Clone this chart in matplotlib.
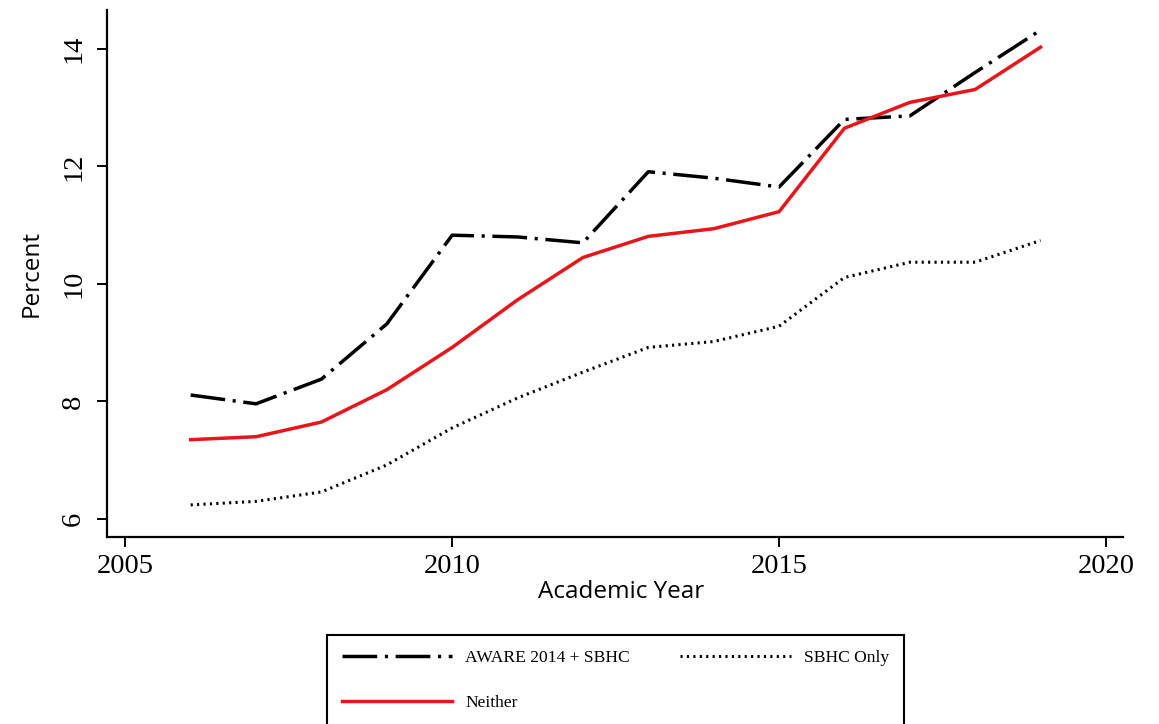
import matplotlib
matplotlib.use("Agg")
import matplotlib.pyplot as plt


# Data
years = [2006, 2007, 2008, 2009, 2010, 2011, 2012, 2013, 2014, 2015, 2016, 2017, 2018, 2019]
aware_sbhc = [8.11, 7.96, 8.38, 9.32, 10.83, 10.80, 10.70, 11.91, 11.80, 11.65, 12.80, 12.86, 13.60, 14.32]
neither = [7.35, 7.40, 7.65, 8.20, 8.92, 9.73, 10.45, 10.81, 10.94, 11.23, 12.65, 13.09, 13.31, 14.03]
sbhc_only = [6.24, 6.30, 6.46, 6.92, 7.55, 8.06, 8.50, 8.92, 9.02, 9.28, 10.11, 10.37, 10.37, 10.74]

x_ticks = [2005, 2010, 2015, 2020]
y_ticks = [6, 8, 10, 12, 14]

serif = "Liberation Serif"
sans = "Open Sans"

fig = plt.figure(figsize=(11.59, 7.24), dpi=100)
ax = fig.add_axes([0.0923, 0.258, 0.8766, 0.728])

# Lines
l1, = ax.plot(years, aware_sbhc, color="black", linewidth=2.5,
              dashes=(10, 2.2, 0.9, 2.2), label="AWARE 2014 + SBHC")
l2, = ax.plot(years, neither, color="#e8161b", linewidth=2.5, label="Neither")
l3, = ax.plot(years, sbhc_only, color="black", linewidth=2.2,
              dashes=(0.7, 1.4), label="SBHC Only")

ax.set_xlim(2004.72, 2020.26)
ax.set_ylim(5.69, 14.66)
ax.set_xticks(x_ticks)
ax.set_yticks(y_ticks)

ax.spines["top"].set_visible(False)
ax.spines["right"].set_visible(False)
ax.spines["left"].set_linewidth(1.6)
ax.spines["bottom"].set_linewidth(1.6)

ax.tick_params(axis="both", direction="out", length=7, width=1.4, labelsize=20.5)
ax.tick_params(axis="x", pad=5)
ax.tick_params(axis="y", pad=8)
for lab in ax.get_xticklabels():
    lab.set_fontfamily(serif)
for lab in ax.get_yticklabels():
    lab.set_fontfamily(serif)
    lab.set_rotation(90)
    lab.set_va("center")

ax.set_xlabel("Academic Year", fontsize=17.5, fontfamily=sans)
ax.set_ylabel("Percent", fontsize=17.5, fontfamily=sans)
ax.xaxis.set_label_coords(0.506, -0.082)
ax.yaxis.set_label_coords(-0.062, 0.5)

# Legend below the chart, ordered so rows read AWARE / SBHC Only, then Neither
leg = fig.legend(
    handles=[l1, l2, l3],
    ncol=2,
    loc="upper left",
    bbox_to_anchor=(0.282, 0.123),
    bbox_transform=fig.transFigure,
    borderaxespad=0,
    prop={"family": serif, "size": 12.6},
    handlelength=6.3,
    handletextpad=0.75,
    columnspacing=2.9,
    labelspacing=1.65,
    borderpad=0.85,
    frameon=True,
    fancybox=False,
    framealpha=1,
)
leg.get_frame().set_edgecolor("black")
leg.get_frame().set_linewidth(1.5)

fig.savefig("out.png", dpi=100)
